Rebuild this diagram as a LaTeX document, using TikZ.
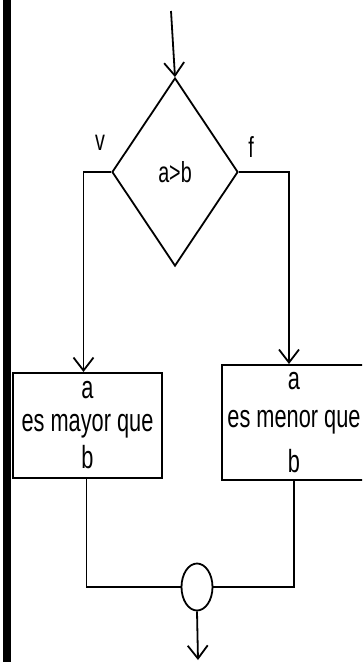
\documentclass[tikz,border=0pt]{standalone}
\usepackage{fontspec}
\setmainfont{Liberation Sans}[FakeStretch=0.68]
\usetikzlibrary{arrows.meta,shapes.geometric}
\tikzset{%
	process/.style  = {draw, rectangle, line width=2pt, inner sep=0pt, align=center, text centered, font=\fontsize{32}{35}\selectfont},
	decision/.style = {draw, diamond, line width=1.8pt, inner sep=0pt, minimum width=126pt, minimum height=188pt},
	joint/.style    = {draw, ellipse, line width=1.8pt, inner sep=0pt, minimum width=31pt, minimum height=47pt},
	arrow/.style    = {line width=1.8pt, -{Straight Barb[length=13pt,width=20pt,line width=1.8pt]}},
	line/.style     = {line width=1.8pt},
	every node/.style = {font=\fontsize{29}{35}\selectfont},
}
\begin{document}
\begin{tikzpicture}[x=1pt,y=-1pt]
	\useasboundingbox (0,0) rectangle (362,662);
	\clip (0,0) rectangle (362,662);
	\fill (3,0) rectangle (11,662);  % left bar

	\coordinate (start) at (171,11);
	\node[decision] (cond) at (175,172) {a>b};
	\node (lblv) at (100,143) {v};
	\node (lblf) at (251,147) {f};

	\node[process, minimum width=149pt, minimum height=105pt] (mayor) at (87.5,425.5) {a\\[-2pt]es mayor que\\[2pt]b};
	\node[process, minimum width=144pt, minimum height=115pt] (menor) at (294,422.5) {a\\[3pt]es menor que\\[10pt]b};

	\node[joint] (join) at (197,587) {};
	\coordinate (finish) at (198,660);

	\draw[arrow] (start) -- (cond.north);
	\draw[arrow] (cond.west) -| ([xshift=-4pt]mayor.north);
	\draw[arrow] (cond.east) -| ([xshift=-5pt]menor.north);
	\draw[line] ([xshift=-1pt]mayor.south) |- (join.west);
	\draw[line] (menor.south) |- (join.east);
	\draw[arrow] (join.south) -- (finish);
\end{tikzpicture}
\end{document}
